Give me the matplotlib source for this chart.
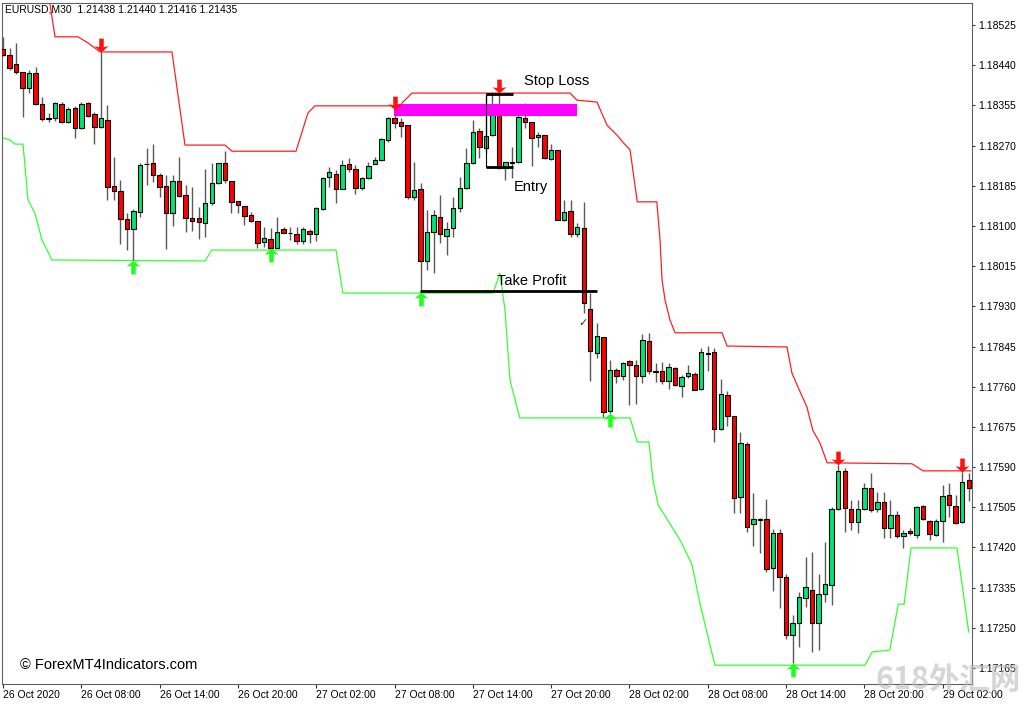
import matplotlib.pyplot as plt
from matplotlib.path import Path
import numpy as np

plt.rcParams['font.family'] = ['Liberation Sans', 'DejaVu Sans']

# EURUSD M30 candles (one per bar, left to right)
opens = [1.18474, 1.18462, 1.18443, 1.18426, 1.18392, 1.18423, 1.18358, 1.18328, 1.18328, 1.18358,
         1.18320, 1.18349, 1.18307, 1.18360, 1.18337, 1.18309, 1.18324, 1.18184, 1.18174, 1.18115,
         1.18093, 1.18129, 1.18231, 1.18233, 1.18208, 1.18184, 1.18127, 1.18195, 1.18165, 1.18117,
         1.18117, 1.18106, 1.18148, 1.18191, 1.18233, 1.18195, 1.18153, 1.18142, 1.18123, 1.18110,
         1.18066, 1.18072, 1.18053, 1.18093, 1.18085, 1.18083, 1.18068, 1.18089, 1.18083, 1.18136,
         1.18203, 1.18210, 1.18178, 1.18231, 1.18220, 1.18180, 1.18201, 1.18232, 1.18239, 1.18282,
         1.18328, 1.18320, 1.18313, 1.18161, 1.18178, 1.18026, 1.18087, 1.18119, 1.18079, 1.18096,
         1.18138, 1.18180, 1.18233, 1.18301, 1.18265, 1.18292, 1.18341, 1.18223, 1.18233, 1.18235,
         1.18328, 1.18320, 1.18288, 1.18292, 1.18242, 1.18261, 1.18113, 1.18132, 1.18083, 1.18096,
         1.17924, 1.17831, 1.17865, 1.17709, 1.17795, 1.17783, 1.17814, 1.17806, 1.17783, 1.17857,
         1.17793, 1.17793, 1.17772, 1.17800, 1.17761, 1.17783, 1.17787, 1.17755, 1.17831, 1.17833,
         1.17670, 1.17742, 1.17698, 1.17527, 1.17639, 1.17470, 1.17480, 1.17480, 1.17377, 1.17451,
         1.17357, 1.17235, 1.17260, 1.17313, 1.17330, 1.17260, 1.17322, 1.17341, 1.17501, 1.17582,
         1.17501, 1.17474, 1.17501, 1.17546, 1.17501, 1.17516, 1.17461, 1.17489, 1.17444, 1.17455,
         1.17446, 1.17508, 1.17476, 1.17446, 1.17476, 1.17531, 1.17508, 1.17474, 1.17563]
highs = [1.18500, 1.18476, 1.18487, 1.18426, 1.18430, 1.18436, 1.18373, 1.18339, 1.18362, 1.18362,
         1.18352, 1.18354, 1.18362, 1.18362, 1.18341, 1.18468, 1.18356, 1.18246, 1.18197, 1.18127,
         1.18136, 1.18233, 1.18265, 1.18273, 1.18212, 1.18208, 1.18208, 1.18246, 1.18187, 1.18182,
         1.18140, 1.18220, 1.18233, 1.18233, 1.18258, 1.18195, 1.18153, 1.18142, 1.18129, 1.18110,
         1.18098, 1.18096, 1.18119, 1.18098, 1.18098, 1.18098, 1.18098, 1.18093, 1.18140, 1.18203,
         1.18225, 1.18218, 1.18239, 1.18244, 1.18229, 1.18203, 1.18235, 1.18246, 1.18286, 1.18330,
         1.18345, 1.18328, 1.18313, 1.18235, 1.18191, 1.18134, 1.18134, 1.18165, 1.18108, 1.18161,
         1.18203, 1.18265, 1.18324, 1.18307, 1.18379, 1.18379, 1.18381, 1.18235, 1.18267, 1.18341,
         1.18360, 1.18320, 1.18299, 1.18292, 1.18273, 1.18261, 1.18155, 1.18155, 1.18106, 1.18151,
         1.17958, 1.17895, 1.17865, 1.17816, 1.17800, 1.17812, 1.17816, 1.17816, 1.17871, 1.17874,
         1.17810, 1.17812, 1.17810, 1.17802, 1.17785, 1.17806, 1.17791, 1.17842, 1.17846, 1.17842,
         1.17776, 1.17751, 1.17698, 1.17664, 1.17643, 1.17535, 1.17482, 1.17522, 1.17459, 1.17459,
         1.17364, 1.17277, 1.17326, 1.17400, 1.17410, 1.17364, 1.17431, 1.17506, 1.17594, 1.17588,
         1.17520, 1.17520, 1.17556, 1.17577, 1.17537, 1.17537, 1.17520, 1.17497, 1.17457, 1.17461,
         1.17508, 1.17510, 1.17478, 1.17480, 1.17552, 1.17556, 1.17531, 1.17580, 1.17577]
lows = [1.18459, 1.18430, 1.18421, 1.18330, 1.18381, 1.18356, 1.18322, 1.18320, 1.18322, 1.18318,
        1.18318, 1.18286, 1.18305, 1.18330, 1.18273, 1.18307, 1.18155, 1.18155, 1.18062, 1.18049,
        1.18028, 1.18119, 1.18187, 1.18193, 1.18161, 1.18051, 1.18100, 1.18161, 1.18087, 1.18089,
        1.18072, 1.18077, 1.18144, 1.18189, 1.18191, 1.18127, 1.18127, 1.18102, 1.18108, 1.18053,
        1.18055, 1.18053, 1.18053, 1.18085, 1.18070, 1.18062, 1.18062, 1.18064, 1.18068, 1.18134,
        1.18182, 1.18148, 1.18178, 1.18214, 1.18168, 1.18176, 1.18199, 1.18231, 1.18237, 1.18277,
        1.18307, 1.18288, 1.18157, 1.18155, 1.17960, 1.18007, 1.18000, 1.18064, 1.18038, 1.18077,
        1.18129, 1.18179, 1.18232, 1.18244, 1.18254, 1.18290, 1.18220, 1.18197, 1.18201, 1.18233,
        1.18307, 1.18227, 1.18267, 1.18242, 1.18239, 1.18112, 1.18110, 1.18077, 1.18077, 1.17916,
        1.17772, 1.17821, 1.17696, 1.17704, 1.17768, 1.17774, 1.17721, 1.17723, 1.17768, 1.17787,
        1.17770, 1.17766, 1.17755, 1.17761, 1.17738, 1.17778, 1.17753, 1.17753, 1.17793, 1.17643,
        1.17668, 1.17677, 1.17493, 1.17493, 1.17453, 1.17423, 1.17408, 1.17368, 1.17328, 1.17292,
        1.17226, 1.17176, 1.17209, 1.17294, 1.17199, 1.17203, 1.17305, 1.17298, 1.17499, 1.17453,
        1.17457, 1.17451, 1.17499, 1.17495, 1.17495, 1.17440, 1.17440, 1.17440, 1.17419, 1.17446,
        1.17440, 1.17478, 1.17436, 1.17444, 1.17431, 1.17484, 1.17470, 1.17472, 1.17518]
closes = [1.18462, 1.18434, 1.18426, 1.18392, 1.18423, 1.18358, 1.18326, 1.18327, 1.18360, 1.18320,
          1.18347, 1.18307, 1.18358, 1.18332, 1.18309, 1.18328, 1.18182, 1.18174, 1.18115, 1.18093,
          1.18132, 1.18229, 1.18230, 1.18208, 1.18182, 1.18127, 1.18195, 1.18163, 1.18117, 1.18110,
          1.18108, 1.18148, 1.18191, 1.18233, 1.18197, 1.18151, 1.18144, 1.18121, 1.18110, 1.18064,
          1.18074, 1.18053, 1.18087, 1.18085, 1.18084, 1.18068, 1.18093, 1.18083, 1.18138, 1.18201,
          1.18214, 1.18178, 1.18229, 1.18220, 1.18180, 1.18201, 1.18227, 1.18239, 1.18284, 1.18328,
          1.18318, 1.18311, 1.18161, 1.18176, 1.18026, 1.18087, 1.18123, 1.18083, 1.18093, 1.18138,
          1.18180, 1.18233, 1.18299, 1.18267, 1.18290, 1.18341, 1.18223, 1.18235, 1.18235, 1.18330,
          1.18320, 1.18286, 1.18292, 1.18244, 1.18261, 1.18113, 1.18129, 1.18083, 1.18098, 1.17937,
          1.17835, 1.17867, 1.17706, 1.17795, 1.17783, 1.17810, 1.17806, 1.17783, 1.17859, 1.17793,
          1.17792, 1.17772, 1.17802, 1.17764, 1.17780, 1.17789, 1.17753, 1.17833, 1.17830, 1.17670,
          1.17745, 1.17698, 1.17525, 1.17641, 1.17463, 1.17480, 1.17479, 1.17374, 1.17451, 1.17357,
          1.17235, 1.17260, 1.17315, 1.17336, 1.17260, 1.17322, 1.17343, 1.17501, 1.17582, 1.17503,
          1.17474, 1.17501, 1.17546, 1.17499, 1.17516, 1.17461, 1.17489, 1.17444, 1.17451, 1.17451,
          1.17506, 1.17480, 1.17448, 1.17476, 1.17529, 1.17510, 1.17472, 1.17558, 1.17546]

# channel indicator lines (bar position, price)
upper_x = [7.05, 7.97, 11.49, 13.03, 13.64, 14.87, 25.9, 27.89, 34.02, 35.1, 44.9, 46.74, 47.8,
           60.84, 61.15, 62.68, 64.2, 86.9, 87.97, 91.03, 92.57, 94.1, 95.0, 96.1, 97.2, 100.2,
           100.69, 101.0, 101.46, 102.22, 102.99, 110.2, 110.96, 120.15, 120.9, 121.84, 123.2,
           124.1, 125.2, 126.3, 139.3, 141.0, 148.3]
upper_y = [1.18584, 1.18500, 1.18500, 1.18487, 1.18481, 1.18468, 1.18468, 1.18271, 1.18271,
           1.18258, 1.18258, 1.18339, 1.18354, 1.18354, 1.18360, 1.18381, 1.18381, 1.18381,
           1.18366, 1.18362, 1.18313, 1.18292, 1.18277, 1.18261, 1.18151, 1.18151, 1.18070,
           1.17986, 1.17943, 1.17901, 1.17874, 1.17874, 1.17846, 1.17844, 1.17789, 1.17759,
           1.17717, 1.17668, 1.17641, 1.17599, 1.17597, 1.17582, 1.17582]
lower_x = [-0.46, 1.07, 1.84, 3.07, 3.83, 4.9, 5.98, 7.5, 30.96, 32.0, 51.03, 52.1, 75.1, 76.17,
           76.93, 77.7, 79.2, 96.1, 97.2, 99.0, 99.6, 100.4, 103.75, 105.6, 106.8, 109.1, 132.1,
           133.2, 135.9, 137.2, 138.1, 139.15, 146.2, 148.0]
lower_y = [1.18288, 1.18282, 1.18273, 1.18273, 1.18155, 1.18127, 1.18070, 1.18028, 1.18026,
           1.18049, 1.18049, 1.17958, 1.17958, 1.18000, 1.17922, 1.17774, 1.17694, 1.17694,
           1.17643, 1.17643, 1.17563, 1.17510, 1.17436, 1.17383, 1.17302, 1.17171, 1.17171,
           1.17199, 1.17203, 1.17300, 1.17300, 1.17419, 1.17419, 1.17241]

sell_arrow_bars = [15, 60, 76, 128, 147]
buy_arrow_bars = [20, 41, 64, 93, 121]

stop_loss = 1.18379
entry = 1.18225
take_profit = 1.17962
zone_top = 1.18358
zone_bottom = 1.18332

price_ticks = [1.18525 - 0.00085 * k for k in range(17)]
time_labels = ['26 Oct 2020', '26 Oct 08:00', '26 Oct 14:00', '26 Oct 20:00', '27 Oct 02:00',
               '27 Oct 08:00', '27 Oct 14:00', '27 Oct 20:00', '28 Oct 02:00', '28 Oct 08:00',
               '28 Oct 14:00', '28 Oct 20:00', '29 Oct 02:00']

o = np.array(opens)
h = np.array(highs)
l = np.array(lows)
c = np.array(closes)
x = np.arange(len(o))

fig = plt.figure(figsize=(10.24, 7.04), dpi=100)
ax = fig.add_axes([2 / 1024, 20 / 704, 970 / 1024, 681 / 704])

# indicator lines
ax.plot(upper_x, upper_y, color='#ff2020', lw=0.9, zorder=1)
ax.plot(lower_x, lower_y, color='#33ff33', lw=0.9, zorder=1)

# candles
body_col = np.where(c >= o, '#00e676', '#ff0000')
ax.vlines(x, l, h, color='#5a5a5a', lw=1.0, zorder=2)
ax.bar(x, np.abs(c - o), bottom=np.minimum(o, c), width=0.68, color=body_col,
       edgecolor='black', linewidth=0.8, zorder=3)

# arrows (MT4 style, tip on the bar's high / low)
down = Path([(0, 0), (-0.55, 0.5), (-0.18, 0.42), (-0.18, 1.1), (0.18, 1.1), (0.18, 0.42),
             (0.55, 0.5), (0, 0)], closed=True)
up = Path([(0, 0), (-0.55, -0.5), (-0.18, -0.42), (-0.18, -1.1), (0.18, -1.1), (0.18, -0.42),
           (0.55, -0.5), (0, 0)], closed=True)
ax.plot(sell_arrow_bars, h[sell_arrow_bars], ls='none', marker=down, ms=20,
        color='#ff1010', mew=0, zorder=5)
ax.plot(buy_arrow_bars, l[buy_arrow_bars], ls='none', marker=up, ms=20,
        color='#20ff20', mew=0, zorder=5)

# trade annotations
ax.fill_between([59.9, 87.97], zone_bottom, zone_top, color='#ff00ff', lw=0, zorder=4)
ax.hlines(stop_loss, 74.0, 78.2, color='black', lw=2, zorder=6)
ax.hlines(entry, 74.0, 78.2, color='black', lw=2, zorder=6)
ax.vlines(74.0, entry, stop_loss, color='black', lw=0.8, zorder=6)
ax.hlines(take_profit, 63.9, 91.0, color='black', lw=2, zorder=6)
ax.text(84.9, 1.18407, 'Stop Loss', ha='center', va='center', fontsize=10.5, zorder=7)
ax.text(80.9, 1.18182, 'Entry', ha='center', va='center', fontsize=10.5, zorder=7)
ax.text(81.1, 1.17984, 'Take Profit', ha='center', va='center', fontsize=10.5, zorder=7)
ax.text(88.9, 1.17895, '\u2713', ha='center', va='center', fontsize=8, color='#333333',
        family=['DejaVu Sans'], zorder=7)

ax.set_xlim(-0.15, 148.5)
ax.set_ylim(1.171312, 1.185715)

ax.yaxis.tick_right()
ax.set_yticks(price_ticks)
ax.set_yticklabels(['%.5f' % p for p in price_ticks])
ax.set_xticks(range(0, 12 * len(time_labels), 12))
ax.set_xticklabels(time_labels)
for lab in ax.get_xticklabels():
    lab.set_ha('left')
ax.tick_params(axis='y', length=2.5, width=0.8, labelsize=7.5, pad=2, colors='#333333',
               labelcolor='black')
ax.tick_params(axis='x', length=3, width=0.8, labelsize=7.5, pad=1.5, colors='#333333',
               labelcolor='black')
for s in ax.spines.values():
    s.set_color('#606060')
    s.set_linewidth(0.8)

fig.text(5 / 1024, 1 - 10 / 704, 'EURUSD,M30  1.21438 1.21440 1.21416 1.21435',
         fontsize=7.5, va='center', ha='left')
fig.text(20 / 1024, 1 - 665 / 704, '\u00a9 ForexMT4Indicators.com', fontsize=10.5,
         va='center', ha='left')
fig.text(948 / 1024, 1 - 680 / 704, '618外汇网', fontsize=22, fontweight='bold',
         color='#bbbbbb', alpha=0.6, ha='center', va='center',
         family=['Noto Sans CJK SC', 'DejaVu Sans'], zorder=10)

fig.savefig('out.png', dpi=100)
